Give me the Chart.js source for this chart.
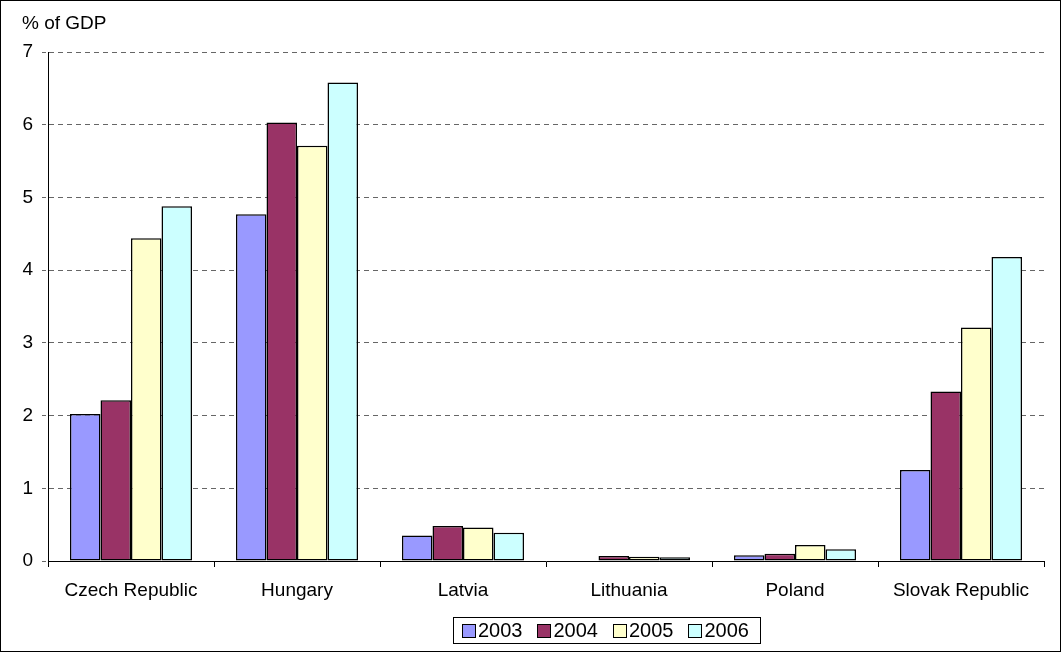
<!DOCTYPE html>
<html>
<head>
<meta charset="utf-8">
<script src="https://cdn.jsdelivr.net/npm/chart.js@4.4.0/dist/chart.umd.min.js"></script>
<style>
  html, body { margin: 0; padding: 0; background: #fff; }
  #wrap { width: 1061px; height: 652px; }
</style>
</head>
<body>
<div id="wrap"><canvas id="chart" width="1061" height="652"></canvas></div>
<script>
const countries = ['Czech Republic', 'Hungary', 'Latvia', 'Lithuania', 'Poland', 'Slovak Republic'];
const years = ['2003', '2004', '2005', '2006'];
const values2003 = [2.02, 4.77, 0.35, 0, 0.08, 1.25];
const values2004 = [2.21, 6.03, 0.48, 0.07, 0.10, 2.33];
const values2005 = [4.44, 5.71, 0.46, 0.06, 0.22, 3.21];
const values2006 = [4.88, 6.58, 0.39, 0.05, 0.16, 4.18];
const yTicks = [0, 1, 2, 3, 4, 5, 6, 7];
const unitLabel = '% of GDP';

const colors = ['#9999FF', '#993366', '#FFFFCC', '#CCFFFF'];
const font = 'Liberation Sans, Arial, sans-serif';
const fontSize = 19;

const frame = {
  id: 'frame',
  afterDraw(chart) {
    const { ctx, width, height } = chart;
    ctx.save();
    ctx.strokeStyle = '#000';
    ctx.lineWidth = 1;
    ctx.strokeRect(0.5, 0.5, width - 1, height - 1);

    // unit label
    ctx.fillStyle = '#000';
    ctx.font = `${fontSize}px ${font}`;
    ctx.textBaseline = 'middle';
    ctx.textAlign = 'left';
    ctx.fillText(unitLabel, 22, 24);

    // legend with box
    ctx.font = `20px ${font}`;
    const sq = 13;
    const items = chart.data.datasets.map((ds) => ({
      label: ds.label, color: ds.backgroundColor, w: ctx.measureText(ds.label).width,
    }));
    const gap = 15;
    const inner = items.reduce((s, it) => s + sq + 3 + it.w, 0) + gap * (items.length - 1);
    const boxW = inner + 20;
    const cx = 606;
    const top = 617;
    const boxH = 26;
    const left = Math.round(cx - boxW / 2);
    ctx.strokeRect(left + 0.5, top + 0.5, Math.round(boxW), boxH);
    let x = left + 9;
    const my = top + boxH / 2 + 0.5;
    items.forEach((it) => {
      const sx = Math.round(x) + 0.5;
      const sy = Math.round(my - sq / 2) + 0.5;
      ctx.fillStyle = it.color;
      ctx.fillRect(sx, sy, sq, sq);
      ctx.strokeStyle = '#000';
      ctx.strokeRect(sx, sy, sq, sq);
      ctx.fillStyle = '#000';
      ctx.fillText(it.label, x + sq + 3, my + 1);
      x += sq + 3 + it.w + gap;
    });
    ctx.restore();
  },
};

const allValues = [values2003, values2004, values2005, values2006];

new Chart(document.getElementById('chart'), {
  type: 'bar',
  data: {
    labels: countries,
    datasets: years.map((y, i) => ({
      label: y,
      data: allValues[i],
      backgroundColor: colors[i],
      borderColor: '#000',
      borderWidth: 1.5,
      borderSkipped: false,
      categoryPercentage: 0.735,
      barPercentage: 1,
    })),
  },
  options: {
    responsive: false,
    animation: false,
    devicePixelRatio: 1,
    layout: { padding: { left: 0, top: 52, right: 17, bottom: 0 } },
    plugins: {
      legend: { display: false },
      tooltip: { enabled: false },
    },
    scales: {
      x: {
        afterFit(scale) { scale.height = 91; },
        grid: {
          offset: true,
          drawOnChartArea: false,
          color: '#000',
          tickLength: 6,
        },
        border: { color: '#000', width: 1 },
        ticks: {
          color: '#000',
          padding: 12,
          maxRotation: 0,
          font: { family: font, size: fontSize },
        },
      },
      y: {
        min: 0,
        max: 7,
        afterFit(scale) { scale.width = 48; },
        afterBuildTicks(scale) { scale.ticks = yTicks.map((v) => ({ value: v })); },
        grid: {
          color: (c) => (c.tick && c.tick.value === 0 ? 'rgba(0,0,0,0)' : '#666'),
          tickLength: 6,
          tickColor: '#666',
          tickBorderDash: [4, 3],
        },
        border: { color: '#000', width: 1, dash: [5, 4] },
        ticks: {
          color: '#000',
          padding: 9,
          font: { family: font, size: fontSize },
        },
      },
    },
  },
  plugins: [frame],
});
</script>
</body>
</html>
